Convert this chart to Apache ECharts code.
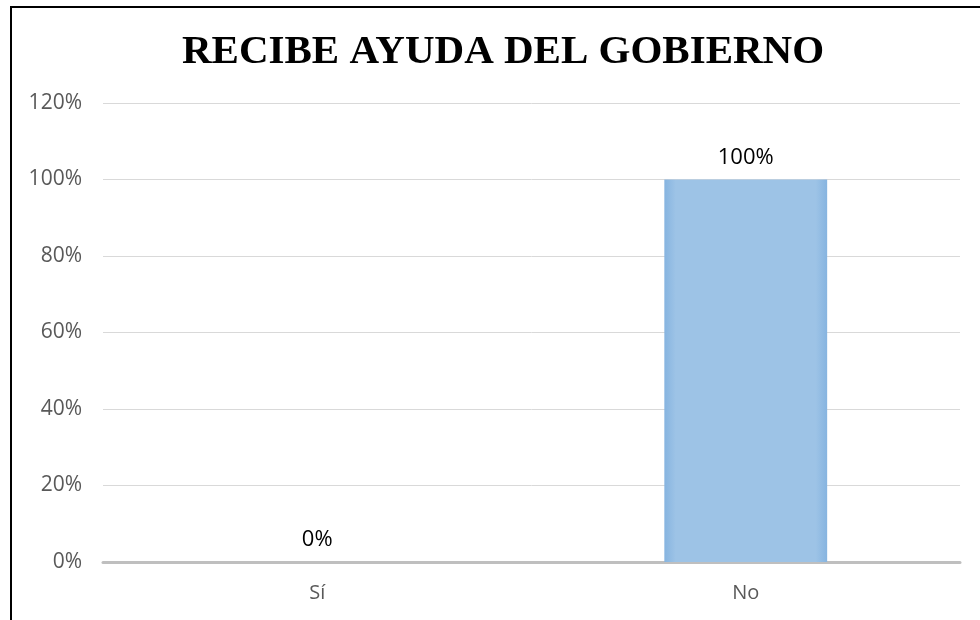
<!DOCTYPE html>
<html>
<head>
<meta charset="utf-8">
<script src="https://cdn.jsdelivr.net/npm/echarts@6/dist/echarts.min.js"></script>
<style>
html,body{margin:0;padding:0;background:#fff;}
#chart{width:980px;height:620px;}
</style>
</head>
<body>
<div id="chart"></div>
<script>
var titleText = 'RECIBE AYUDA DEL GOBIERNO';
var categories = ['Sí', 'No'];
var values = [0, 1];
var yTicks = { min: 0, max: 1.2, interval: 0.2 };

function pct(v) { return Math.round(v * 100) + '%'; }

var chart = echarts.init(document.getElementById('chart'));
chart.setOption({
  animation: false,
  backgroundColor: '#ffffff',
  title: {
    text: titleText,
    left: 177,
    top: 27,
    textStyle: {
      fontFamily: 'Liberation Serif',
      fontWeight: 'bold',
      fontSize: 41,
      color: '#000000'
    }
  },
  graphic: [{
    type: 'polyline',
    shape: { points: [[11, 625], [11, 7], [990, 7]] },
    style: { stroke: '#000000', lineWidth: 2, fill: null },
    silent: true
  }],
  grid: { left: 103, right: 20, top: 103, bottom: 58 },
  xAxis: {
    type: 'category',
    data: categories,
    axisLine: { show: true, lineStyle: { color: '#bfbfbf', width: 3 } },
    axisTick: { show: false },
    axisLabel: { color: '#595959', fontSize: 20, fontFamily: 'Open Sans', margin: 21 }
  },
  yAxis: {
    type: 'value',
    min: yTicks.min,
    max: yTicks.max,
    interval: yTicks.interval,
    axisLine: { show: false },
    axisTick: { show: false },
    splitLine: { lineStyle: { color: '#d9d9d9', width: 1 } },
    axisLabel: {
      color: '#595959', fontSize: 21, fontFamily: 'Open Sans', margin: 21,
      formatter: function (v) { return pct(v); }
    }
  },
  series: [{
    type: 'bar',
    data: values,
    barWidth: '38%',
    itemStyle: {
      color: {
        type: 'linear', x: 0, y: 0, x2: 1, y2: 0,
        colorStops: [
          { offset: 0, color: '#86b4e0' },
          { offset: 0.07, color: '#9dc3e6' },
          { offset: 0.93, color: '#9dc3e6' },
          { offset: 1, color: '#86b4e0' }
        ]
      },
      borderWidth: 0
    },
    label: {
      show: true,
      position: 'top',
      distance: 11,
      color: '#000000',
      fontSize: 22,
      fontFamily: 'Open Sans',
      formatter: function (p) { return pct(p.value); }
    }
  }]
});
</script>
</body>
</html>
